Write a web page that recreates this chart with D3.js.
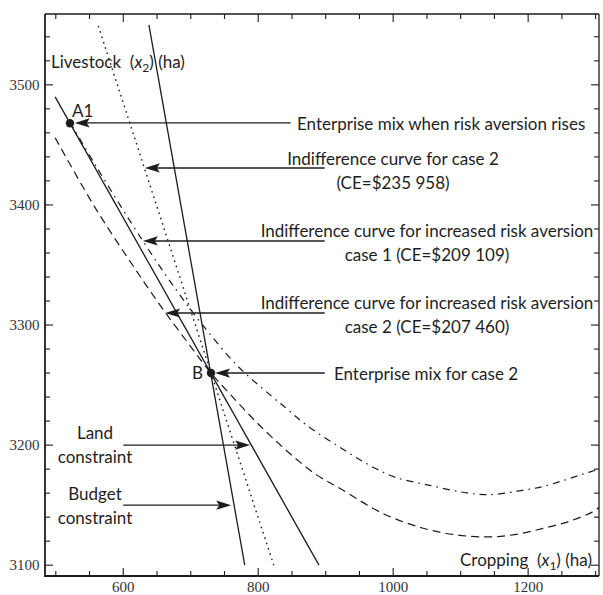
<!DOCTYPE html>
<html><head><meta charset="utf-8">
<script src="https://cdn.jsdelivr.net/npm/d3@7"></script>
<style>body{margin:0;background:#fff}svg{display:block}</style>
</head><body>
<svg id="chart" width="603" height="595"></svg>
<script>
// ---- data ----
const xMajorTicks = [600, 800, 1000, 1200];
const yMajorTicks = [3100, 3200, 3300, 3400, 3500];
const landX = [499, 890];
const landY = [3490, 3100];
const budgetX = [638, 780];
const budgetY = [3550, 3100];
const ic2X = [563, 730, 823];
const ic2Y = [3549, 3260, 3100];
const riskCase1X = [521, 560, 629, 680, 719, 770, 818, 843, 865, 892, 919, 947, 974, 1004, 1054, 1100, 1128, 1151, 1193, 1222, 1252, 1282, 1305];
const riskCase1Y = [3469, 3432, 3370, 3328, 3299, 3265.6, 3241.6, 3230, 3219.5, 3208.5, 3199, 3189, 3180.5, 3173, 3166.5, 3161, 3159, 3159, 3162.5, 3165.5, 3170.5, 3176, 3180];
const riskCase2X = [499, 558, 620, 659, 700, 730, 760, 796, 826, 855, 887, 922, 985, 1043, 1090, 1138, 1180, 1222, 1260, 1295, 1305];
const riskCase2Y = [3456, 3398, 3344.7, 3313, 3282, 3260, 3241.4, 3219.8, 3203.6, 3189, 3175, 3163.6, 3143, 3131, 3125.5, 3123.5, 3125.5, 3130.6, 3136.4, 3144.2, 3148];
const pointNames = ["A1", "B"];
const pointX = [521, 730];
const pointY = [3468, 3260];

// ---- layout ----
const L = 45, R = 599, T = 14, B = 576;
const svg = d3.select("#chart");
const x = d3.scaleLinear().domain([484, 1305]).range([L, R]);
const y = d3.scaleLinear().domain([3091, 3559]).range([B, T]);
const ink = "#1c1c1c";
const txt = "#1e1e1e";
const sans = "Lato, 'Open Sans', sans-serif";
const serif = "'Liberation Serif', 'DejaVu Serif', serif";
const FS = 17;

const zip = (xs, ys) => xs.map((v, i) => [v, ys[i]]);
const lineGen = d3.line().x(d => x(d[0])).y(d => y(d[1]));
const curveGen = d3.line().x(d => x(d[0])).y(d => y(d[1])).curve(d3.curveCatmullRom.alpha(0.5));

// frame
svg.append("line").attr("x1", L).attr("x2", R).attr("y1", T).attr("y2", T).attr("stroke", ink).attr("stroke-width", 1.3);
svg.append("line").attr("x1", R).attr("x2", R).attr("y1", T).attr("y2", B).attr("stroke", ink).attr("stroke-width", 1.3);
svg.append("line").attr("x1", L).attr("x2", L).attr("y1", T).attr("y2", B + 1).attr("stroke", ink).attr("stroke-width", 1.8);
svg.append("line").attr("x1", L - 1).attr("x2", R).attr("y1", B).attr("y2", B).attr("stroke", ink).attr("stroke-width", 1.8);

// ticks
const xTicksAll = d3.range(500, 1301, 50);
const yTicksAll = d3.range(3100, 3541, 20);
const isMajX = v => xMajorTicks.includes(v);
const isMajY = v => yMajorTicks.includes(v);
const tg = svg.append("g").attr("stroke", ink).attr("stroke-width", 1.1);
xTicksAll.forEach(v => {
  const len = isMajX(v) ? 8 : 5;
  tg.append("line").attr("x1", x(v)).attr("x2", x(v)).attr("y1", B).attr("y2", B - len);
  tg.append("line").attr("x1", x(v)).attr("x2", x(v)).attr("y1", T).attr("y2", T + len);
});
yTicksAll.forEach(v => {
  const len = isMajY(v) ? 8 : 5;
  tg.append("line").attr("x1", L).attr("x2", L + len).attr("y1", y(v)).attr("y2", y(v));
  tg.append("line").attr("x1", R).attr("x2", R - len).attr("y1", y(v)).attr("y2", y(v));
});
svg.append("g").selectAll("text").data(xMajorTicks).join("text")
  .attr("x", d => x(d)).attr("y", 592).attr("text-anchor", "middle")
  .attr("font-family", serif).attr("font-size", 15).attr("fill", "#333").text(d => d);
svg.append("g").selectAll("text").data(yMajorTicks).join("text")
  .attr("x", 39.5).attr("y", d => y(d) + 5).attr("text-anchor", "end")
  .attr("font-family", serif).attr("font-size", 15).attr("fill", "#333").text(d => d);

// curves
const g = svg.append("g").attr("fill", "none").attr("stroke", ink);
g.append("path").attr("d", lineGen(zip(landX, landY))).attr("stroke-width", 1.3);
g.append("path").attr("d", lineGen(zip(budgetX, budgetY))).attr("stroke-width", 1.3);
g.append("path").attr("d", curveGen(zip(ic2X, ic2Y))).attr("stroke-width", 1.4).attr("stroke-dasharray", "1.6,4");
g.append("path").attr("d", curveGen(zip(riskCase1X, riskCase1Y))).attr("stroke-width", 1.2).attr("stroke-dasharray", "7,5,1.6,5");
g.append("path").attr("d", curveGen(zip(riskCase2X, riskCase2Y))).attr("stroke-width", 1.2).attr("stroke-dasharray", "8,5");

// points
svg.append("g").selectAll("circle").data(pointNames).join("circle")
  .attr("cx", (d, i) => x(pointX[i])).attr("cy", (d, i) => y(pointY[i])).attr("r", 4.2).attr("fill", ink);
svg.append("text").attr("x", x(pointX[0]) + 2).attr("y", y(pointY[0]) - 6)
  .attr("font-family", sans).attr("font-size", FS).attr("fill", txt).text(pointNames[0]);
svg.append("text").attr("x", x(pointX[1]) - 8).attr("y", y(pointY[1]) + 6).attr("text-anchor", "end")
  .attr("font-family", sans).attr("font-size", FS).attr("fill", txt).text(pointNames[1]);

// arrows (tail and tip in data units)
function arrow(x0, x1, yv) {
  const px0 = x(x0), px1 = x(x1), py = y(yv);
  const dir = px1 > px0 ? 1 : -1;
  const len = 15, hw = 4.6, notch = 3;
  svg.append("line").attr("x1", px0).attr("x2", px1 - dir * len * 0.6).attr("y1", py).attr("y2", py)
    .attr("stroke", ink).attr("stroke-width", 1.4);
  svg.append("path").attr("fill", ink).attr("d",
    `M${px1},${py} L${px1 - dir * len},${py - hw} L${px1 - dir * (len - notch)},${py} L${px1 - dir * len},${py + hw} Z`);
}
arrow(848, 528, 3468.3);
arrow(898.5, 632, 3430.8);
arrow(898.5, 629, 3370);
arrow(898.5, 662, 3310);
arrow(898.5, 736, 3260);
arrow(600, 788, 3200);
arrow(600, 760, 3150);

// annotation text
function label(lines, cx, baseline, anchor) {
  const t = svg.append("text").attr("font-family", sans).attr("font-size", FS).attr("fill", txt)
    .attr("text-anchor", anchor || "middle");
  lines.forEach((s, i) => t.append("tspan").attr("x", cx).attr("y", baseline + i * 24).text(s));
}
label(["Enterprise mix when risk aversion rises"], 297, 130, "start");
label(["Indifference curve for case 2", "(CE=$235 958)"], 393, 165);
label(["Indifference curve for increased risk aversion", "case 1 (CE=$209 109)"], 427, 237);
label(["Indifference curve for increased risk aversion", "case 2 (CE=$207 460)"], 427, 309);
label(["Enterprise mix for case 2"], 426, 380);
label(["Land", "constraint"], 95, 439);
label(["Budget", "constraint"], 95, 500);

// axis titles with subscripts
function axisTitle(xpos, ypos, word, sub) {
  const t = svg.append("text").attr("x", xpos).attr("y", ypos)
    .attr("font-family", sans).attr("font-size", FS).attr("fill", txt);
  t.append("tspan").text(word + "\u00a0\u00a0(");
  t.append("tspan").attr("font-style", "italic").text("x");
  t.append("tspan").attr("font-size", 12).attr("dy", 4).text(sub);
  t.append("tspan").attr("dy", -4).text(") (ha)");
}
axisTitle(51, 68, "Livestock", "2");
axisTitle(460, 566, "Cropping", "1");
</script>
</body></html>
